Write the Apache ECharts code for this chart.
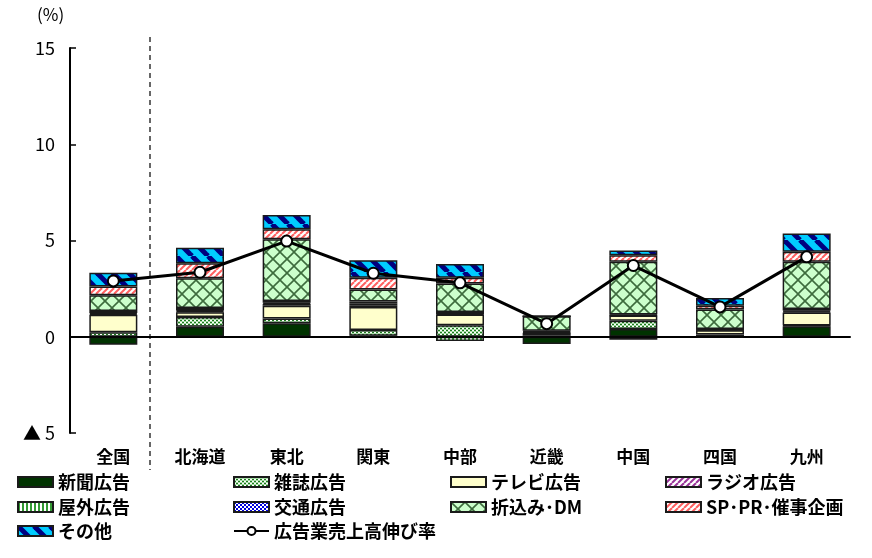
<!DOCTYPE html>
<html>
<head>
<meta charset="utf-8">
<script src="https://cdn.jsdelivr.net/npm/echarts@6/dist/echarts.min.js"></script>
<style>
html, body { margin: 0; padding: 0; background: #fff; }
#chart { width: 872px; height: 558px; }
</style>
</head>
<body>
<div id="chart"></div>
<script>
var areas = ['全国', '北海道', '東北', '関東', '中部', '近畿', '中国', '四国', '九州'];

var shinbun  = [-0.42, 0.52, 0.70, 0.05, 0,     -0.38, 0.40, 0.12, 0.55];
var zasshi   = [0.24,  0.50, 0.25, 0.30, 0.60,  0.08,  0.43, -0.06, 0.03];
var terebi   = [0.90,  0.25, 0.66, 1.20, 0.55,  0.12,  0.27, 0.22, 0.68];
var rajio    = [0.05,  0.05, 0.10, 0.08, 0.03,  0.03,  0.02, 0.02, 0.05];
var okugai   = [0.05,  0.05, 0.05, 0.08, -0.22, 0.03,  -0.15, 0.02, 0.05];
var koutsu   = [0.10,  0.12, 0.10, 0.12, 0.10,  0.05,  0.03, 0.02, 0.08];
var orikomi  = [0.82,  1.55, 3.20, 0.63, 1.48,  0.75,  2.74, 1.01, 2.45];
var sp       = [0.45,  0.78, 0.52, 0.60, 0.30,  0,     0.35, 0.20, 0.52];
var sonota   = [0.72,  0.80, 0.75, 0.92, 0.72,  0,     0.24, 0.40, 0.95];
var nobiritsu = [2.9, 3.35, 4.97, 3.3, 2.8, 0.68, 3.7, 1.55, 4.15];

var yTicks = [-5, 0, 5, 10, 15];

var font = "'Noto Sans CJK JP', sans-serif";

function pat(size, bg, draw) {
    var c = document.createElement('canvas');
    c.width = size; c.height = size;
    var g = c.getContext('2d');
    g.fillStyle = bg;
    g.fillRect(0, 0, size, size);
    draw(g, size);
    return { image: c, repeat: 'repeat' };
}
function slash(color, w) {
    return function (g, s) {
        g.strokeStyle = color; g.lineWidth = w;
        for (var k = -1; k <= 1; k++) {
            g.beginPath(); g.moveTo(k * s, s); g.lineTo(k * s + s, 0); g.stroke();
        }
    };
}
function backslash(color, w) {
    return function (g, s) {
        g.strokeStyle = color; g.lineWidth = w;
        for (var k = -1; k <= 1; k++) {
            g.beginPath(); g.moveTo(k * s, 0); g.lineTo(k * s + s, s); g.stroke();
        }
    };
}

var fills = {
    shinbun: '#003300',
    zasshi: pat(4, '#a8dca8', function (g) {
        g.fillStyle = '#1f7a1f'; g.fillRect(0, 0, 2, 1); g.fillRect(2, 2, 2, 1);
        g.fillStyle = '#ffffff'; g.fillRect(2, 0, 2, 1); g.fillRect(0, 2, 2, 1);
    }),
    terebi: '#ffffcc',
    rajio: pat(6, '#ffffff', slash('#993399', 2)),
    okugai: pat(4, '#ffffff', function (g) {
        g.fillStyle = '#339933'; g.fillRect(0, 0, 2, 4);
    }),
    koutsu: pat(4, '#ffffff', function (g) {
        g.fillStyle = '#0000dd'; g.fillRect(0, 0, 2, 2); g.fillRect(2, 2, 2, 2);
    }),
    orikomi: pat(14, '#ccffcc', function (g, s) {
        g.strokeStyle = '#3d6b3d'; g.lineWidth = 1.6;
        g.beginPath(); g.moveTo(0, 0); g.lineTo(s, s); g.stroke();
        g.beginPath(); g.moveTo(s, 0); g.lineTo(0, s); g.stroke();
    }),
    sp: pat(6, '#ffffff', slash('#ff6060', 2)),
    sonota: pat(16, '#00ccff', backslash('#000080', 5))
};

function barSeries(name, data, fill) {
    return {
        name: name,
        type: 'bar',
        stack: 'total',
        barWidth: 48,
        data: data,
        itemStyle: { color: fill, borderColor: '#1a1a1a', borderWidth: 1.5 },
        emphasis: { disabled: true }
    };
}

var lineName = '広告業売上高伸び率';

var series = [
    barSeries('新聞広告', shinbun, fills.shinbun),
    barSeries('雑誌広告', zasshi, fills.zasshi),
    barSeries('テレビ広告', terebi, fills.terebi),
    barSeries('ラジオ広告', rajio, fills.rajio),
    barSeries('屋外広告', okugai, fills.okugai),
    barSeries('交通広告', koutsu, fills.koutsu),
    barSeries('折込み･DM', orikomi, fills.orikomi),
    barSeries('SP･PR･催事企画', sp, fills.sp),
    barSeries('その他', sonota, fills.sonota),
    {
        name: lineName,
        type: 'line',
        data: nobiritsu,
        symbol: 'circle',
        symbolSize: 11,
        lineStyle: { color: '#000', width: 3 },
        itemStyle: { color: '#fff', borderColor: '#000', borderWidth: 2 },
        z: 10,
        markLine: {
            silent: true,
            symbol: 'none',
            label: { show: false },
            lineStyle: { color: '#000', type: 'solid', width: 1.5 },
            data: [{ yAxis: 0 }]
        }
    }
];

// legend laid out as a 4 column table
var legendRows = [
    ['新聞広告', '雑誌広告', 'テレビ広告', 'ラジオ広告'],
    ['屋外広告', '交通広告', '折込み･DM', 'SP･PR･催事企画'],
    ['その他', lineName]
];
var colX = [17, 233, 450, 665];
var rowY = [472, 497, 521];
var legends = [];
legendRows.forEach(function (row, r) {
    row.forEach(function (name, c) {
        var lg = {
            data: [name],
            left: colX[c],
            top: rowY[r],
            itemWidth: 35,
            itemHeight: 10,
            padding: 0,
            selectedMode: false,
            textStyle: { fontFamily: font, fontSize: 18, fontWeight: 'bold', color: '#000', lineHeight: 20 }
        };
        if (name !== lineName) lg.icon = 'rect';
        legends.push(lg);
    });
});

var myChart = echarts.init(document.getElementById('chart'));

var option = {
    animation: false,
    backgroundColor: '#fff',
    title: {
        text: '(%)',
        left: 32,
        top: 1,
        textStyle: { fontFamily: font, fontSize: 17, fontWeight: 'normal', color: '#000' }
    },
    legend: legends,
    grid: { left: 70, right: 22, top: 48, bottom: 125, containLabel: false },
    xAxis: {
        type: 'category',
        data: areas,
        axisLine: { lineStyle: { color: '#000', width: 2 } },
        axisTick: { inside: true, length: 6, lineStyle: { color: '#000', width: 1.5 } },
        axisLabel: { fontFamily: font, fontSize: 17, fontWeight: 'bold', color: '#000', margin: 15 }
    },
    yAxis: {
        type: 'value',
        min: yTicks[0],
        max: yTicks[yTicks.length - 1],
        interval: yTicks[1] - yTicks[0],
        axisLine: { show: true, lineStyle: { color: '#000', width: 2 } },
        axisTick: { show: true, inside: true, length: 6, lineStyle: { color: '#000', width: 1.5 } },
        splitLine: { show: false },
        axisLabel: {
            fontFamily: font,
            fontSize: 18,
            color: '#000',
            margin: 15,
            formatter: function (v) { return v < 0 ? '▲ ' + Math.abs(v) : String(v); }
        }
    },
    series: series
};

myChart.setOption(option);

// dashed separator between 全国 and the regions
var x0 = myChart.convertToPixel({ xAxisIndex: 0 }, areas[0]);
var x1 = myChart.convertToPixel({ xAxisIndex: 0 }, areas[1]);
var sepX = Math.round((x0 + x1) / 2) - 7;
myChart.setOption({
    graphic: [{
        type: 'line',
        shape: { x1: sepX, y1: 37, x2: sepX, y2: 470 },
        style: { stroke: '#666', lineWidth: 2, lineDash: [5, 4] },
        silent: true
    }]
});
</script>
</body>
</html>
